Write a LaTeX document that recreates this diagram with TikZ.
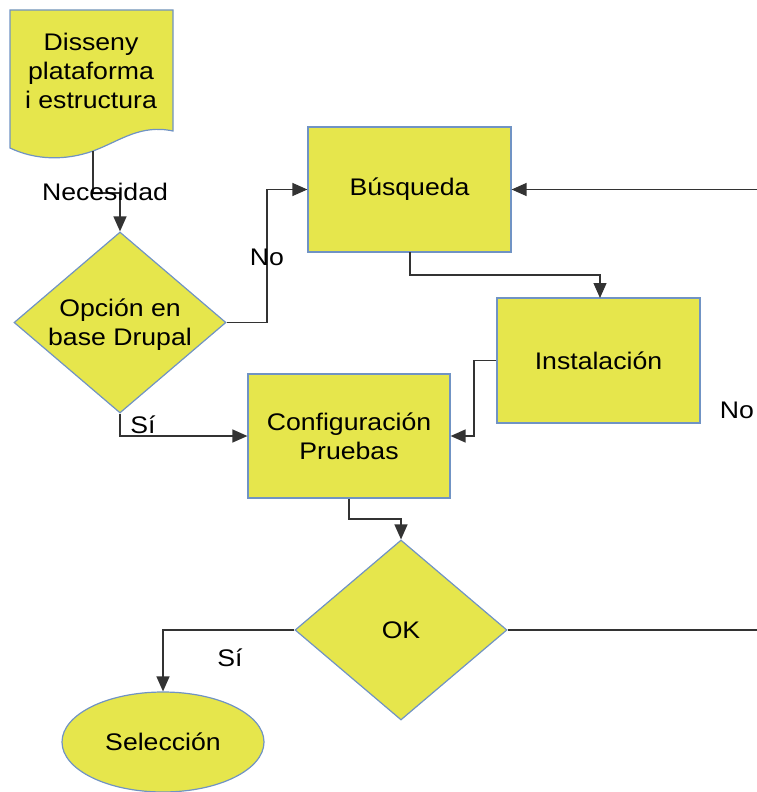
\documentclass[tikz,border=0pt]{standalone}
\usepackage{fontspec}
\setmainfont[FakeStretch=1.11]{Liberation Sans}
\usetikzlibrary{shapes.geometric,arrows.meta}
\definecolor{boxfill}{HTML}{E6E64C}
\definecolor{boxline}{HTML}{7093C4}
\definecolor{conn}{HTML}{333333}
\begin{document}
\begin{tikzpicture}[x=1pt,y=-1pt,
  every node/.style={font=\fontsize{24}{29}\selectfont, text=black},
  shapebox/.style={draw=boxline, fill=boxfill, line width=1.2pt},
  procbox/.style={shapebox, rectangle, minimum width=202pt, minimum height=124pt, align=center},
  decbox/.style={shapebox, diamond, minimum width=212pt, minimum height=181pt, inner sep=0pt},
  termbox/.style={shapebox, ellipse, minimum width=202pt, minimum height=100pt},
  lbl/.style={inner sep=0pt},
  conn/.style={draw=conn, line width=1.3pt, -{Triangle[length=15pt,width=13pt]}},
  plain/.style={draw=conn, line width=1.3pt}]
\useasboundingbox (0,0) rectangle (757,792);
% document shape
\path[shapebox] (10,10) -- (173,10) -- (173,131)
  .. controls (140,124) and (120,141) .. (93,151)
  .. controls (65,161) and (35,160) .. (10,148) -- cycle;
\coordinate (docb) at (93,151);
\node[align=center, lbl] (doc) at (91,71) {Disseny\\plataforma\\i estructura};
% nodes
\node[decbox] (d1) at (120,322.5) {};
\node[align=center, lbl] (d1t) at (120,325) {Opción en\\base Drupal};
\node[procbox, minimum width=203pt, minimum height=125pt] (bus) at (409.5,189.5) {Búsqueda};
\node[procbox, minimum width=203pt, minimum height=125pt] (ins) at (598.5,360.5) {Instalación};
\node[procbox] (cfg) at (349,436) {Configuración\\Pruebas};
\node[decbox, minimum height=180pt] (ok) at (401,630) {};
\node[lbl] (okt) at (ok) {OK};
\node[termbox] (sel) at (163,742) {Selección};
% edge coordinates
\coordinate (rin) at (757,189.5);
\coordinate (rout) at (757,630);
% connectors
\draw[conn] (docb) -- (93,193) -| (d1.north);
\draw[conn] (d1.east) -| (267,189.5) -- (bus.west);
\draw[conn] (d1.south) |- (cfg.west);
\draw[conn] (410,252) -- (410,275) -| (600,298);
\draw[conn] (ins.west) -| (474,436) -- (cfg.east);
\draw[conn] (cfg.south) -- (349,519) -| (ok.north);
\draw[conn] (ok.west) -| (sel.north);
\draw[plain] (ok.east) -- (rout);
\draw[conn] (rin) -- (bus.east);
% labels
\node[lbl] (lnec) at (105,192) {Necesidad};
\node[lbl] (lno1) at (267,257) {No};
\node[lbl] (lsi1) at (143,425) {Sí};
\node[lbl] (lsi2) at (230,658) {Sí};
\node[lbl] (lno2) at (737,410) {No};
\end{tikzpicture}
\end{document}
